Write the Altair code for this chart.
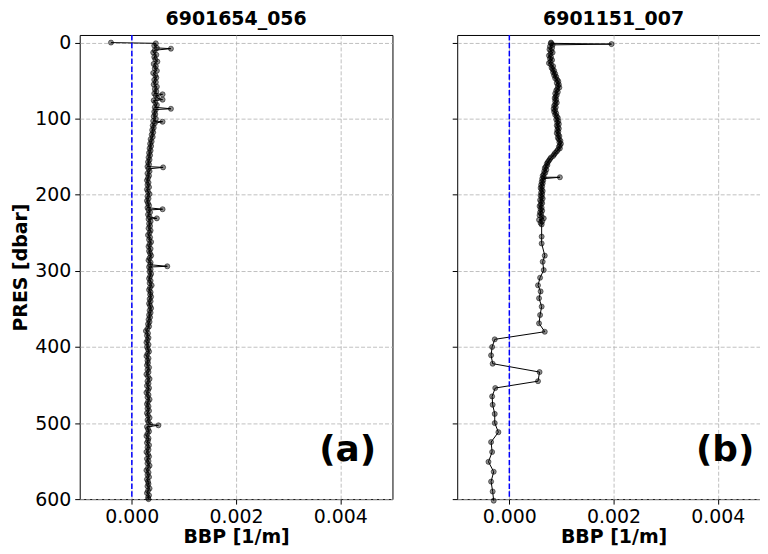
import altair as alt
import pandas as pd

TITLES = ["6901654_056", "6901151_007"]
TAGS = ["(a)", "(b)"]
X_TICKS = [0.0, 0.002, 0.004]
Y_TICKS = [0, 100, 200, 300, 400, 500, 600]

# Panel (a): regular profile levels [dbar] and BBP [1e-5 1/m]
PRES_A = [1, 4, 7, 10, 13, 16, 19, 22, 25, 28,
          31, 34, 37, 40, 43, 46, 49, 52, 55, 58,
          61, 64, 67, 70, 73, 76, 79, 82, 85, 88,
          91, 94, 97, 100, 103, 106, 109, 112, 115, 118,
          121, 124, 127, 130, 133, 136, 139, 142, 145, 148,
          151, 154, 157, 160, 163, 166, 169, 172, 175, 178,
          181, 184, 187, 190, 193, 196, 199, 202, 205, 208,
          211, 214, 217, 220, 223, 226, 229, 232, 235, 238,
          241, 244, 247, 250, 253, 256, 259, 262, 265, 268,
          271, 274, 277, 280, 283, 286, 289, 292, 295, 298,
          301, 304, 307, 310, 313, 316, 319, 322, 325, 328,
          331, 334, 337, 340, 343, 346, 349, 352, 355, 358,
          361, 364, 367, 370, 373, 376, 379, 382, 385, 388,
          391, 394, 397, 400, 403, 406, 409, 412, 415, 418,
          421, 424, 427, 430, 433, 436, 439, 442, 445, 448,
          451, 454, 457, 460, 463, 466, 469, 472, 475, 478,
          481, 484, 487, 490, 493, 496, 499, 502, 505, 508,
          511, 514, 517, 520, 523, 526, 529, 532, 535, 538,
          541, 544, 547, 550, 553, 556, 559, 562, 565, 568,
          571, 574, 577, 580, 583, 586, 589, 592, 595, 598,
          600]
BBP_A = [46, 43, 48, 44, 41, 47, 43, 45, 49, 42,
         46, 44, 48, 41, 45, 47, 43, 46, 42, 48,
         44, 47, 43, 46, 49, 42, 45, 48, 44, 46,
         43, 45, 42, 46, 41, 44, 40, 42, 39, 41,
         38, 40, 36, 38, 35, 37, 34, 36, 33, 35,
         32, 34, 31, 33, 30, 32, 34, 30, 33, 31,
         29, 32, 30, 33, 29, 31, 34, 30, 32, 29,
         31, 33, 30, 32, 35, 31, 34, 32, 36, 33,
         35, 32, 36, 34, 31, 35, 33, 37, 34, 32,
         36, 33, 35, 37, 34, 32, 36, 35, 33, 36,
         34, 37, 35, 33, 36, 34, 38, 35, 33, 36,
         35, 37, 34, 36, 33, 35, 37, 34, 36, 33,
         35, 32, 34, 31, 33, 30, 27, 31, 29, 32,
         30, 28, 32, 29, 31, 33, 30, 28, 32, 30,
         31, 29, 33, 30, 32, 28, 31, 34, 30, 32,
         29, 33, 31, 28, 32, 30, 34, 31, 29, 32,
         30, 33, 29, 31, 34, 30, 32, 35, 29, 31,
         33, 30, 28, 32, 31, 29, 33, 30, 32, 28,
         31, 33, 29, 32, 30, 34, 31, 28, 32, 30,
         33, 29, 31, 32, 30, 34, 31, 29, 33, 31,
         32]
# Panel (a): isolated outlier samples
SPIKE_PRES_A = [0, 8, 68, 75, 87, 104, 164, 219, 231, 294, 503]
SPIKE_BBP_A = [-40, 75, 59, 59, 75, 59, 60, 59, 48, 68, 51]

# Panel (b): dense upper part, sparse lower part
PRES_B = [1, 3, 5, 7, 9, 11, 13, 15, 17, 19,
          21, 23, 25, 27, 29, 31, 33, 35, 37, 39,
          41, 43, 45, 47, 49, 51, 53, 55, 57, 59,
          61, 63, 65, 67, 69, 71, 73, 75, 77, 79,
          81, 83, 85, 87, 89, 91, 93, 95, 97, 99,
          101, 103, 105, 107, 109, 111, 113, 115, 117, 119,
          121, 123, 125, 127, 129, 131, 133, 135, 137, 139,
          141, 143, 145, 147, 149, 151, 153, 155, 157, 159,
          161, 163, 165, 167, 169, 171, 173, 175, 177, 179,
          181, 183, 185, 187, 189, 191, 193, 195, 197, 199,
          201, 203, 205, 207, 209, 211, 213, 215, 217, 219,
          221, 223, 225, 227, 229, 231, 233, 235, 237, 239,
          255, 264, 280, 288, 299, 309, 319, 327, 336, 347,
          358, 369, 380, 390, 400, 411, 422, 433, 445, 454,
          465, 476, 488, 500, 512, 525, 538, 551, 564, 577,
          590, 602]
BBP_B = [80, 83, 78, 82, 77, 80, 83, 79, 76, 80,
         78, 82, 79, 76, 80, 84, 81, 83, 86, 84,
         88, 86, 90, 88, 92, 94, 91, 95, 93, 96,
         92, 90, 93, 88, 91, 89, 87, 90, 88, 91,
         88, 86, 89, 85, 88, 86, 90, 88, 91, 93,
         90, 94, 92, 95, 91, 93, 95, 92, 94, 91,
         94, 96, 93, 95, 98, 96, 99, 97, 95, 97,
         93, 91, 88, 86, 84, 80, 78, 76, 74, 72,
         73, 70, 68, 71, 67, 69, 66, 64, 66, 63,
         65, 62, 64, 61, 63, 60, 62, 64, 61, 63,
         60, 62, 64, 59, 61, 63, 60, 58, 62, 60,
         63, 59, 61, 58, 62, 66, 57, 63, 60, 62,
         62, 62, 68, 64, 66, 59, 55, 60, 57, 62,
         59, 57, 68, -28, -33, -35, -32, 58, 55, -27,
         -33, -32, -28, -28, -21, -35, -33, -40, -30, -35,
         -32, -30]
SPIKE_PRES_B = [0, 2, 177]
SPIKE_BBP_B = [80, 196, 97]

W_A, W_B, H = 314, 314, 466


def panel(pres, bbp, spres, sbbp, title, tag, first, width):
    df = pd.DataFrame({"PRES": pres + spres,
                       "BBP": [v * 1e-5 for v in bbp + sbbp]})
    x = alt.X("BBP:Q",
              scale=alt.Scale(domain=[-0.001, 0.005], nice=False, zero=False),
              axis=alt.Axis(values=X_TICKS, format=".3f", title="BBP [1/m]"))
    y = alt.Y("PRES:Q",
              scale=alt.Scale(domain=[-10, 600], reverse=True, nice=False, zero=False),
              axis=alt.Axis(values=Y_TICKS, labels=first,
                            title="PRES [dbar]" if first else "",
                            titlePadding=4))
    base = alt.Chart(df)
    line = base.mark_line(color="black", strokeWidth=1).encode(
        x=x, y=y, order="PRES:Q")
    pts = base.mark_point(filled=True, fill="black", fillOpacity=0.45,
                          stroke="black", strokeOpacity=0.6, strokeWidth=0.8,
                          size=26).encode(x=x, y=y)
    zero = alt.Chart(pd.DataFrame({"BBP": [0.0]})).mark_rule(
        color="#0000ff", strokeDash=[5.5, 2.4], strokeWidth=1.5).encode(x=x)
    label = alt.Chart(pd.DataFrame({"t": [tag]})).mark_text(
        fontSize=36, fontWeight="bold", color="black", align="center",
        baseline="middle").encode(text="t:N", x=alt.value(width - 45),
                                   y=alt.value(H - 49))
    return alt.layer(line, pts, zero, label).properties(
        width=width, height=H, title=title)


chart = alt.hconcat(
    panel(PRES_A, BBP_A, SPIKE_PRES_A, SPIKE_BBP_A, TITLES[0], TAGS[0], True, W_A),
    panel(PRES_B, BBP_B, SPIKE_PRES_B, SPIKE_BBP_B, TITLES[1], TAGS[1], False, W_B),
    spacing=58,
).properties(
    padding={"left": 3, "top": 0, "right": -11, "bottom": 0}
).configure(font="DejaVu Sans").configure_view(
    stroke="black", strokeWidth=1
).configure_axis(
    labelFontSize=19, titleFontSize=19, titleFontWeight="bold",
    labelColor="black", titleColor="black", domain=False,
    tickColor="black", tickSize=5, labelPadding=3,
    grid=True, gridColor="#b0b0b0", gridDash=[4, 2], gridWidth=0.8,
).configure_axisY(labelPadding=4).configure_axisX(titlePadding=2).configure_title(
    fontSize=19, fontWeight="bold", color="black", offset=5, anchor="middle"
)

chart.save("out.html", embed_options={"renderer": "svg", "actions": False})
